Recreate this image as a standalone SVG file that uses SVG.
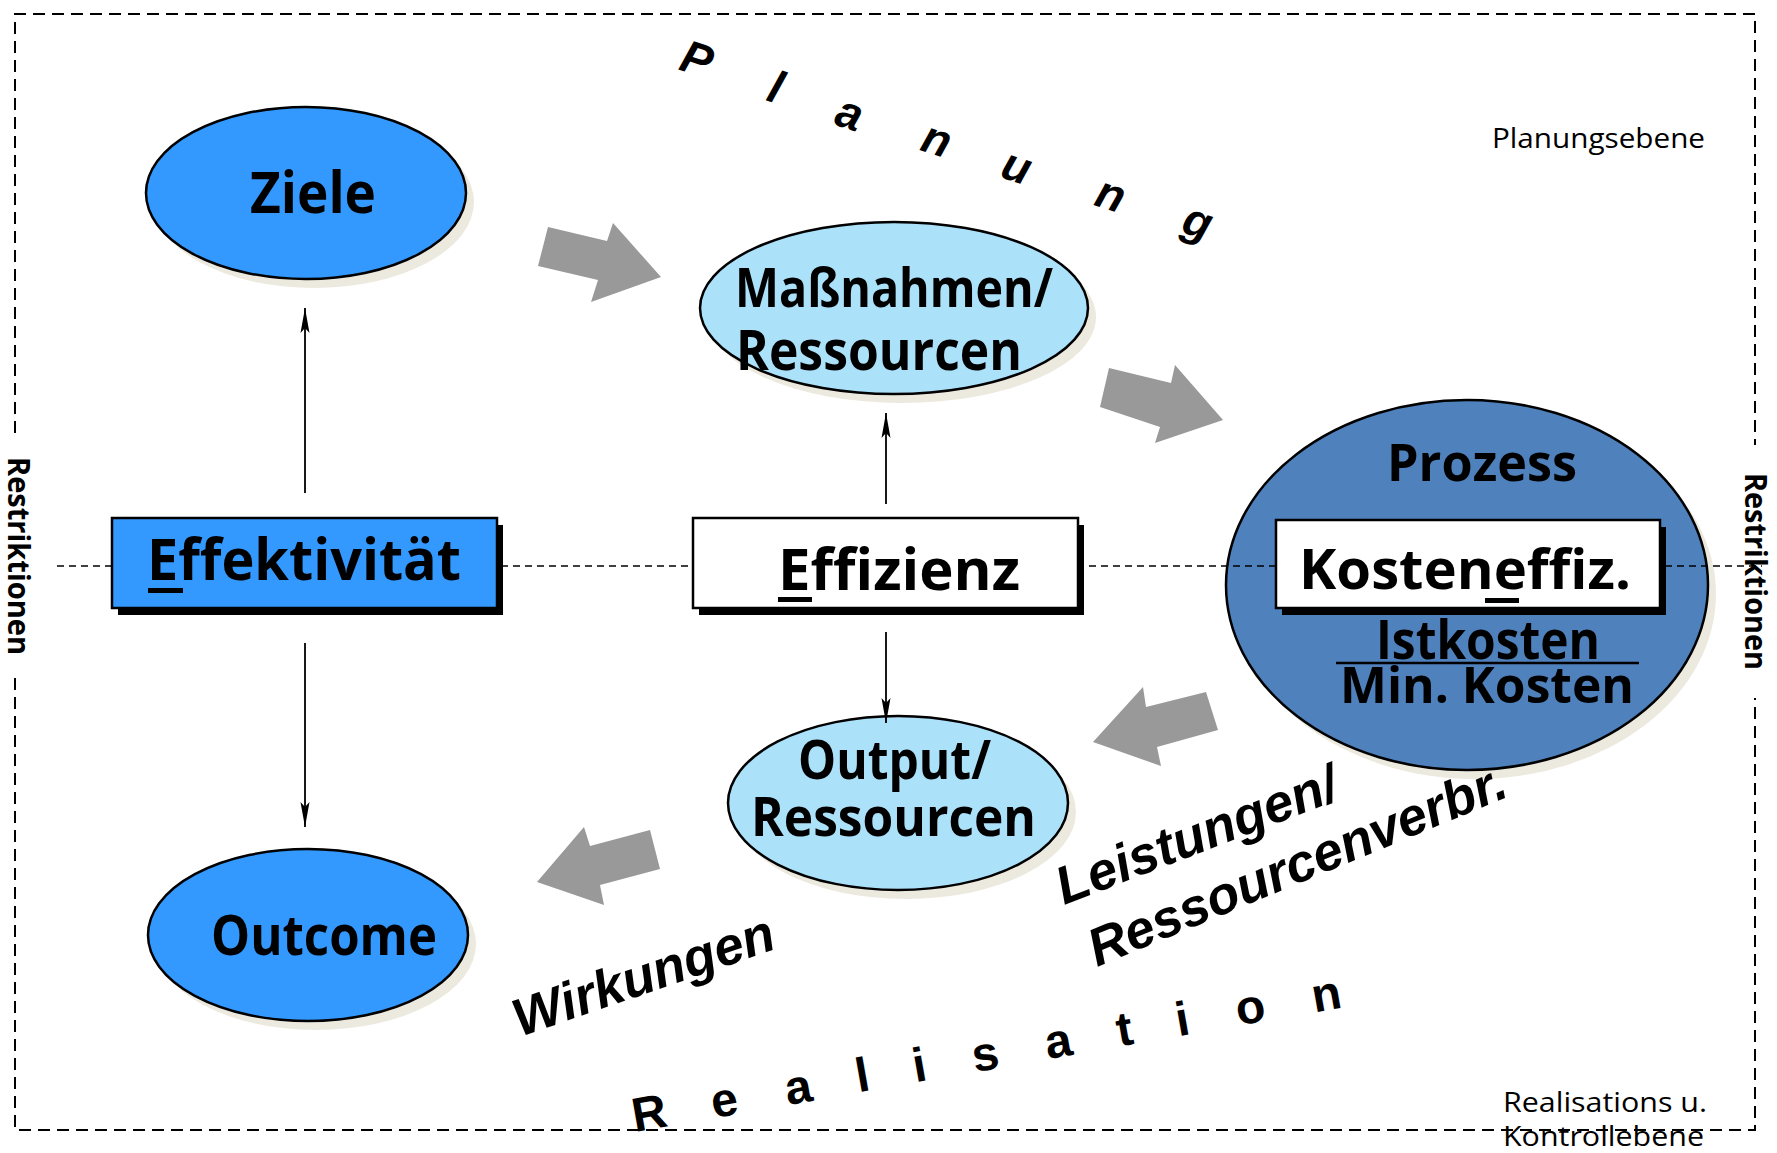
<svg xmlns="http://www.w3.org/2000/svg" width="1777" height="1153" viewBox="0 0 1777 1153">
<defs>
<style>
.frame{fill:none;stroke:#000;stroke-width:2;stroke-dasharray:12 7}
.mid{fill:none;stroke:#000;stroke-width:1.6;stroke-dasharray:7 5}
.sh{fill:#ECE9DF}
.bsh{fill:#000}
.ol{stroke:#000;stroke-width:2.5}
.lbl{font-family:"Open Sans","Noto Sans","DejaVu Sans",sans-serif;font-weight:700;fill:#000}
.small{font-family:"Open Sans","Noto Sans",sans-serif;font-weight:400;font-size:28px;fill:#000}
.wa{font-family:"Liberation Sans",Arial,sans-serif;font-weight:700;fill:#000}
.it{font-style:italic}
.rot{font-family:"Open Sans","DejaVu Sans",sans-serif;font-weight:700;font-size:30px;fill:#000}
.conn{stroke:#000;stroke-width:1.8;fill:none}
.big{fill:#999}
</style>
<marker id="ah" markerUnits="userSpaceOnUse" markerWidth="30" markerHeight="10" refX="25" refY="5" orient="auto" viewBox="0 0 30 10">
<path d="M0,0.5 L25,5 L0,9.5 L5,5 Z" fill="#000"/>
</marker>
</defs>
<rect width="1777" height="1153" fill="#fff"/>
<g id="frame">
<path class="frame" d="M15,433 L15,14 L1755,14 L1755,445"/>
<path class="frame" d="M15,678 L15,1130 L1755,1130 L1755,698"/>
<text class="rot" transform="translate(8,457) rotate(90)" textLength="198" lengthAdjust="spacingAndGlyphs">Restriktionen</text>
<text class="rot" transform="translate(1745,473) rotate(90)" textLength="197" lengthAdjust="spacingAndGlyphs">Restriktionen</text>
<text class="small" x="1492" y="148" textLength="213" lengthAdjust="spacingAndGlyphs">Planungsebene</text>
<text class="small" x="1503" y="1112" textLength="204" lengthAdjust="spacingAndGlyphs">Realisations u.</text>
<text class="small" x="1503" y="1146" textLength="201" lengthAdjust="spacingAndGlyphs">Kontrollebene</text>
</g>
<g id="ziele">
<ellipse class="sh" cx="314" cy="202" rx="160" ry="86"/>
<ellipse class="ol" cx="306" cy="193" rx="160" ry="86" fill="#3399FF"/>
<text class="lbl" x="250" y="213" font-size="58" textLength="126" lengthAdjust="spacingAndGlyphs">Ziele</text>
</g>
<g id="massnahmen">
<ellipse class="sh" cx="902" cy="317" rx="194" ry="86"/>
<ellipse class="ol" cx="894" cy="308" rx="194" ry="86" fill="#ACE1FA"/>
<text class="lbl" x="735" y="307" font-size="54" textLength="318" lengthAdjust="spacingAndGlyphs">Maßnahmen/</text>
<text class="lbl" x="736" y="370" font-size="56" textLength="286" lengthAdjust="spacingAndGlyphs">Ressourcen</text>
</g>
<g id="output">
<ellipse class="sh" cx="906" cy="812" rx="170" ry="87"/>
<ellipse class="ol" cx="898" cy="803" rx="170" ry="87" fill="#ACE1FA"/>
<text class="lbl" x="798" y="779" font-size="54" textLength="193" lengthAdjust="spacingAndGlyphs">Output/</text>
<text class="lbl" x="751" y="836" font-size="54" textLength="285" lengthAdjust="spacingAndGlyphs">Ressourcen</text>
</g>
<g id="outcome">
<ellipse class="sh" cx="316" cy="944" rx="160" ry="86"/>
<ellipse class="ol" cx="308" cy="935" rx="160" ry="86" fill="#3399FF"/>
<text class="lbl" x="211" y="955" font-size="55" textLength="226" lengthAdjust="spacingAndGlyphs">Outcome</text>
</g>
<g id="prozess">
<ellipse class="sh" cx="1475" cy="594" rx="241" ry="185"/>
<ellipse class="ol" cx="1467" cy="585" rx="241" ry="185" fill="#4F81BD"/>
<text class="lbl" x="1387" y="481" font-size="52" textLength="190" lengthAdjust="spacingAndGlyphs">Prozess</text>
<text class="lbl" x="1376" y="659" font-size="53" textLength="224" lengthAdjust="spacingAndGlyphs">Istkosten</text>
<line x1="1336" y1="663" x2="1639" y2="663" stroke="#000" stroke-width="2.5"/>
<text class="lbl" x="1340" y="703" font-size="51" textLength="294" lengthAdjust="spacingAndGlyphs">Min. Kosten</text>
</g>
<g id="midline">
<path class="mid" d="M57,566 L1762,566"/>
</g>
<g id="effektivitaet">
<rect class="bsh" x="118" y="525" width="385" height="90"/>
<rect class="ol" x="112" y="518" width="385" height="90" fill="#3399FF"/>
<text class="lbl" x="147" y="580" font-size="58" textLength="314" lengthAdjust="spacingAndGlyphs">Effektivität</text>
<rect x="148" y="588" width="35" height="5" fill="#000"/>
</g>
<g id="effizienz">
<rect class="bsh" x="699" y="525" width="385" height="90"/>
<rect class="ol" x="693" y="518" width="385" height="90" fill="#fff"/>
<text class="lbl" x="778" y="590" font-size="58" textLength="242" lengthAdjust="spacingAndGlyphs">Effizienz</text>
<rect x="778" y="597" width="34" height="5" fill="#000"/>
</g>
<g id="kosteneffizienz">
<rect class="bsh" x="1282" y="527" width="384" height="88"/>
<rect class="ol" x="1276" y="520" width="384" height="88" fill="#fff"/>
<text class="lbl" x="1299" y="589" font-size="56" textLength="332" lengthAdjust="spacingAndGlyphs">Kosteneffiz.</text>
<rect x="1485" y="598" width="34" height="5" fill="#000"/>
</g>
<g id="connectors">
<line class="conn" x1="305" y1="493" x2="305" y2="308" marker-end="url(#ah)"/>
<line class="conn" x1="305" y1="643" x2="305" y2="827" marker-end="url(#ah)"/>
<line class="conn" x1="886" y1="504" x2="886" y2="413" marker-end="url(#ah)"/>
<line class="conn" x1="886" y1="632" x2="886" y2="723" marker-end="url(#ah)"/>
<polygon class="big" points="548,227 607,241 613,223 661,277 591,302 598,280 538,266"/>
<polygon class="big" points="1109,368 1171,383 1175,365 1223,420 1155,443 1160,427 1100,407"/>
<polygon class="big" points="1093,742 1143,687 1146,707 1206,692 1218,730 1157,747 1161,766"/>
<polygon class="big" points="537,882 584,827 590,846 650,830 660,869 600,885 604,905"/>
</g>
<g id="labels">
<text class="wa it" font-size="53" transform="translate(520,1037) rotate(-19)">Wirkungen</text>
<text class="wa it" font-size="53" transform="translate(1064,905) rotate(-21)">Leistungen/</text>
<text class="wa it" font-size="53" transform="translate(1097,967) rotate(-22.5)">Ressourcenverbr.</text>
</g>
<g id="planung" class="wa it" font-size="46" text-anchor="middle">
<text transform="translate(692,74) rotate(18)">P</text>
<text transform="translate(771,102) rotate(18)">l</text>
<text transform="translate(845,128) rotate(18)">a</text>
<text transform="translate(932,154) rotate(18)">n</text>
<text transform="translate(1012,181) rotate(18)">u</text>
<text transform="translate(1106,209) rotate(18)">n</text>
<text transform="translate(1193,236) rotate(18)">g</text>
</g>
<g id="realisation" class="wa" font-size="48" text-anchor="middle">
<text transform="translate(652,1129) rotate(-10)">R</text>
<text transform="translate(727,1116) rotate(-10)">e</text>
<text transform="translate(801,1103) rotate(-10)">a</text>
<text transform="translate(865,1091) rotate(-10)">l</text>
<text transform="translate(922,1081) rotate(-10)">i</text>
<text transform="translate(988,1070) rotate(-10)">s</text>
<text transform="translate(1061,1057) rotate(-10)">a</text>
<text transform="translate(1127,1045) rotate(-10)">t</text>
<text transform="translate(1185,1035) rotate(-10)">i</text>
<text transform="translate(1253,1023) rotate(-10)">o</text>
<text transform="translate(1329,1010) rotate(-10)">n</text>
</g>
</svg>
